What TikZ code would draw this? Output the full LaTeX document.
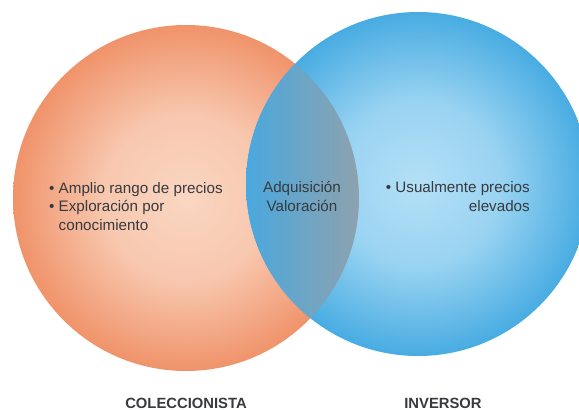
\documentclass[tikz,border=0pt]{standalone}
\usepackage{fontspec}
\setmainfont{Liberation Sans}
\definecolor{collout}{RGB}{240,147,106}
\definecolor{collin}{RGB}{250,214,194}
\definecolor{invout}{RGB}{72,172,226}
\definecolor{invin}{RGB}{180,224,247}
\definecolor{lensleft}{RGB}{74,168,222}
\definecolor{lensright}{RGB}{142,162,174}
\definecolor{txtgray}{RGB}{55,58,62}
\pgfdeclareradialshading{collglow}{\pgfpoint{0bp}{0bp}}{color(0bp)=(collin); color(12bp)=(collin!78!collout); color(25bp)=(collout); color(50bp)=(collout)}
\pgfdeclareradialshading{invglow}{\pgfpoint{0bp}{0bp}}{color(0bp)=(invin); color(12bp)=(invin!75!invout); color(25bp)=(invout); color(50bp)=(invout)}
\tikzset{
  venntext/.style={inner sep=0pt, text=txtgray, font=\fontsize{15.2}{18.2}\selectfont},
  setlabel/.style={inner sep=0pt, text=txtgray, font=\fontsize{14.8}{18}\selectfont\bfseries}
}
\begin{document}
\begin{tikzpicture}[x=1pt,y=-1pt]
    \useasboundingbox (0,0) rectangle (579,410);
    % the two sets
    \shade[shading=collglow] (186,198) circle (173pt);
    \shade[shading=invglow] (418,184) circle (172pt);
    % overlap
    \begin{scope}
        \clip (186,198) circle (173pt);
        \clip (418,184) circle (172pt);
        \shade[left color=lensleft, right color=lensright] (246,0) rectangle (360,410);
    \end{scope}
    % texts (base anchor = last line)
    \node[venntext, anchor=base west, align=left] (coll) at (49,230)
        {\textbullet~Amplio rango de precios\\
         \textbullet~Exploración por\\
         \phantom{\textbullet~}conocimiento};
    \node[venntext, anchor=base, align=center] (both) at (302,211)
        {Adquisición\\Valoración};
    \node[venntext, anchor=base east, align=right] (inv) at (530,211)
        {\textbullet~Usualmente precios\\elevados};
    \node[setlabel, anchor=base] (collname) at (186,408) {COLECCIONISTA};
    \node[setlabel, anchor=base] (invname) at (443,408) {INVERSOR};
\end{tikzpicture}
\end{document}
